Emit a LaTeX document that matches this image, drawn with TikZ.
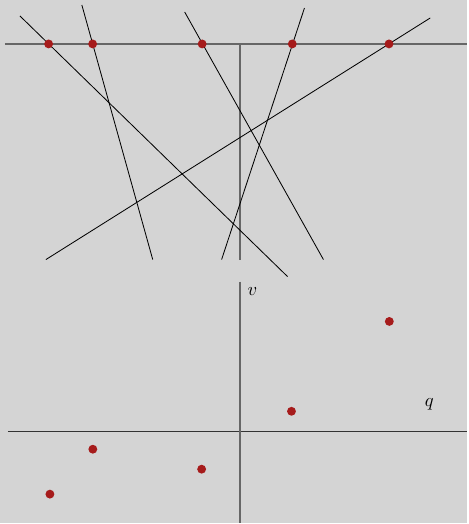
\documentclass[tikz,border=0pt]{standalone}
\usepackage{xcolor}
\usepackage{tikz}
\definecolor{dotred}{HTML}{A61B1B}
\definecolor{bggray}{HTML}{D4D4D4}

\begin{document}
\begin{tikzpicture}[x=0.54pt, y=-0.54pt,
    dot/.style={circle, fill=dotred, inner sep=0pt, minimum size=4.8pt},
    frameline/.style={black!60, line width=1pt},
    baseline/.style={black!80, line width=0.7pt},
    dualline/.style={black, line width=0.45pt}]
      \fill[bggray] (0,0) rectangle (468,524);

      % dual plane
      \coordinate (tL) at (5,44);
      \coordinate (tR) at (468,44);
      \coordinate (tT) at (240,44);
      \coordinate (tB) at (240,260);
      \draw[frameline] (tL) -- (tR);
      \draw[frameline] (tT) -- (tB);

      \foreach \nm/\xa/\ya/\xb/\yb in {A/20/16/288/277, B/82/5/153/260, C/185/12/324/260, D/305/8/222/260, E/431/18/46/260}{
        \coordinate (s\nm) at (\xa,\ya);
        \coordinate (e\nm) at (\xb,\yb);
        \draw[dualline] (s\nm) -- (e\nm);
      }

      \foreach \nm/\x in {A/48.7, B/92.8, C/202.5, D/292.8, E/389.7}{
        \node[dot] (t\nm) at (\x,44) {};
      }

      % primal plane
      \coordinate (bL) at (8,432);
      \coordinate (bR) at (468,432);
      \coordinate (bT) at (240,282);
      \coordinate (bB) at (240,524);
      \draw[baseline] (bL) -- (bR);
      \draw[frameline] (bT) -- (bB);
      \node (vlab) at (253,292) {$v$};
      \node (qlab) at (430,405) {$q$};

      \foreach \nm/\x/\y in {A/50/495, B/93/450, C/202/470, D/292/412, E/390/322}{
        \node[dot] (p\nm) at (\x,\y) {};
      }

    \end{tikzpicture}
\end{document}
